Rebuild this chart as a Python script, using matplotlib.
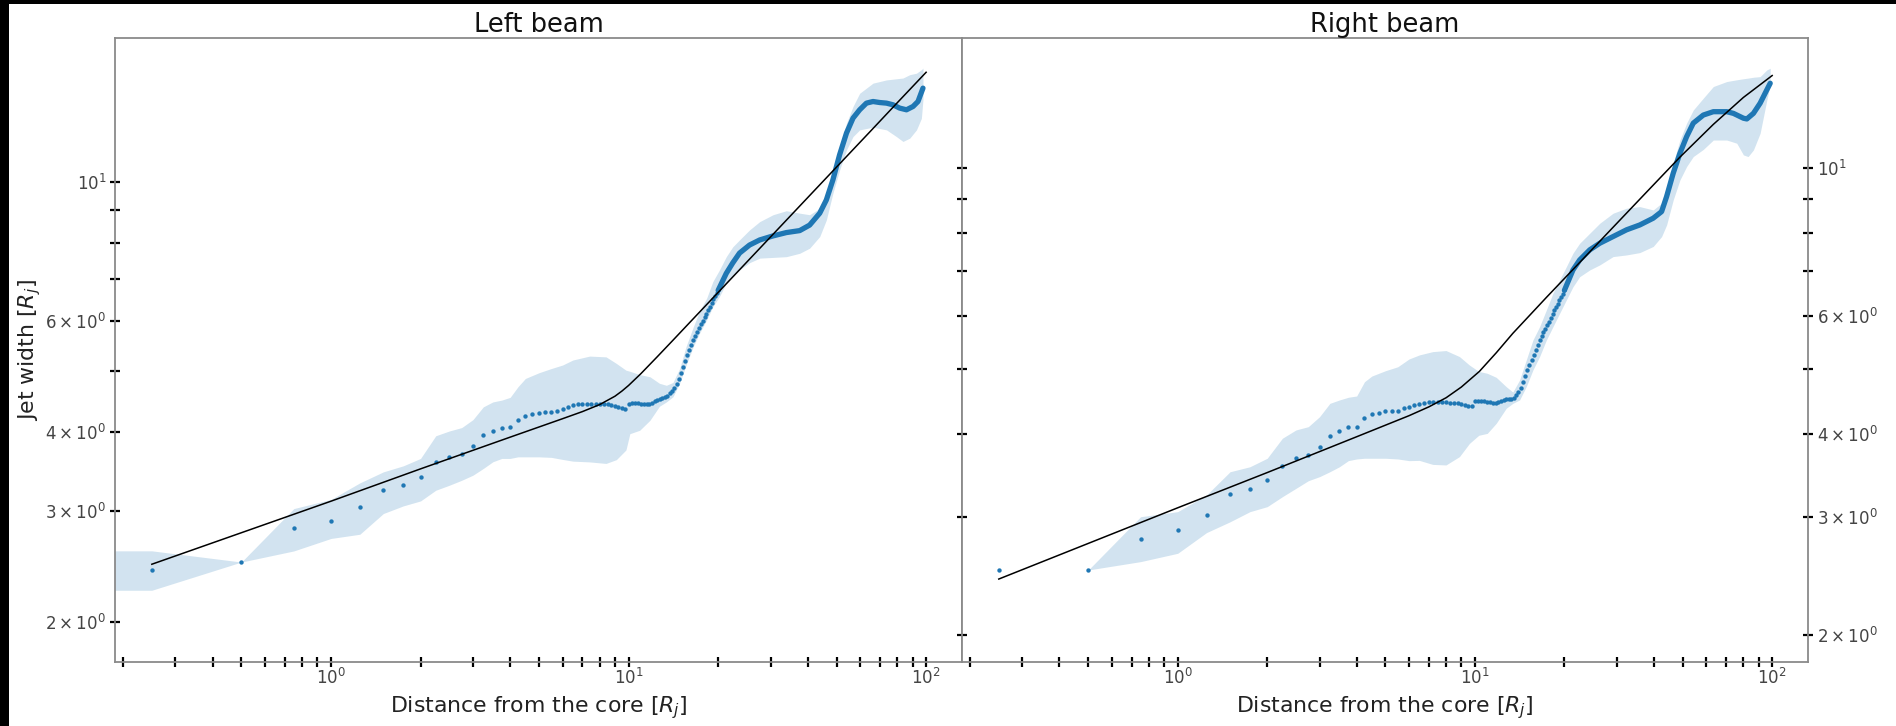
import matplotlib
matplotlib.use("Agg")
import matplotlib.pyplot as plt
from matplotlib.patches import Rectangle

# ---------------- data ----------------
# sample positions of the individually visible points (R_j)
dist_sparse = [0.25, 0.5, 0.75, 1.0, 1.25, 1.5, 1.75, 2.0, 2.25, 2.5, 2.75, 3.0,
               3.25, 3.5, 3.75, 4.0, 4.25, 4.5, 4.75, 5.0, 5.25, 5.5, 5.75, 6.0,
               6.25, 6.5, 6.75, 7.0, 7.25, 7.5, 7.75, 8.0, 8.25, 8.5, 8.75, 9.0,
               9.25, 9.5, 9.75, 10.0, 10.25, 10.5, 10.75, 11.0, 11.25, 11.5, 11.75, 12.0,
               12.25, 12.5, 12.75, 13.0, 13.25, 13.5, 13.75, 14.0, 14.25, 14.5, 14.75, 15.0,
               15.25, 15.5, 15.75, 16.0, 16.25, 16.5, 16.75, 17.0, 17.25, 17.5, 17.75, 18.0,
               18.25, 18.5, 18.75, 19.0, 19.25, 19.5, 19.75, 20.0]

# ---- Left beam ----
left_width_sparse = [2.42, 2.49, 2.815, 2.89, 3.04, 3.24, 3.30, 3.40, 3.59, 3.65, 3.70, 3.80,
                     3.96, 4.02, 4.06, 4.08, 4.19, 4.25, 4.28, 4.30, 4.31, 4.31, 4.33, 4.36,
                     4.39, 4.42, 4.43, 4.43, 4.44, 4.44, 4.44, 4.43, 4.43, 4.43, 4.42, 4.41,
                     4.39, 4.37, 4.35, 4.43, 4.45, 4.45, 4.45, 4.44, 4.44, 4.43, 4.43, 4.45,
                     4.48, 4.50, 4.51, 4.53, 4.55, 4.57, 4.61, 4.65, 4.70, 4.78, 4.86, 4.96,
                     5.07, 5.19, 5.30, 5.40, 5.50, 5.60, 5.69, 5.78, 5.86, 5.94, 6.01, 6.09,
                     6.16, 6.25, 6.33, 6.42, 6.50, 6.58, 6.65, 6.72]
left_dist_dense = [20.0, 21.3, 22.4, 23.6, 25.5, 27.6, 30.6, 33.9, 37.6, 40.6, 43.9, 46.2,
                   48.6, 51.2, 54.0, 56.8, 59.8, 63.0, 66.3, 69.8, 73.6, 77.4, 81.5, 85.9,
                   90.4, 93.9, 97.6]
left_width_dense = [6.72, 7.15, 7.43, 7.70, 7.93, 8.08, 8.20, 8.30, 8.36, 8.53, 8.91, 9.35,
                    10.06, 11.03, 11.94, 12.61, 13.00, 13.32, 13.40, 13.35, 13.32, 13.24, 13.08, 13.00,
                    13.16, 13.40, 14.07]
left_band_dist = [0.15, 0.25, 0.5, 0.75, 1.0, 1.25, 1.5, 1.75, 2.0, 2.25, 2.5, 2.75, 3.0,
                  3.25, 3.5, 3.75, 4.0, 4.25, 4.5, 5.0, 5.5, 6.0, 6.5, 7.4, 8.4, 9.1, 9.8,
                  10.1, 10.9, 11.8, 12.7, 13.4, 14.1, 14.85, 15.6, 16.5, 17.3, 18.3, 19.2,
                  20.2, 21.3, 22.4, 23.6, 25.5, 27.6, 30.6, 33.9, 37.6, 40.6, 43.9, 46.2,
                  48.6, 51.2, 54.0, 56.8, 59.8, 66.3, 73.6, 79.4, 83.6, 88.1, 92.8, 96.4, 97.6]
left_band_low = [2.246, 2.246, 2.49, 2.593, 2.714, 2.756, 2.973, 3.057, 3.113, 3.237, 3.297, 3.357, 3.42,
                 3.505, 3.592, 3.636, 3.636, 3.657, 3.657, 3.657, 3.65, 3.623, 3.60, 3.59, 3.57, 3.62, 3.75,
                 3.98, 4.03, 4.18, 4.40, 4.47, 4.556, 4.785, 5.11, 5.47, 5.74, 6.03, 6.33,
                 6.57, 6.90, 7.07, 7.24, 7.435, 7.56, 7.58, 7.60, 7.695, 7.84, 8.18, 8.69,
                 9.58, 10.43, 11.23, 11.79, 12.08, 12.20, 12.08, 11.79, 11.58, 11.72, 12.08, 12.60, 13.50]
left_band_high = [2.594, 2.594, 2.49, 3.027, 3.13, 3.325, 3.462, 3.539, 3.636, 3.95, 4.02, 4.07, 4.19,
                  4.39, 4.47, 4.50, 4.545, 4.725, 4.87, 4.973, 5.05, 5.115, 5.21, 5.285, 5.27, 5.145, 5.02,
                  5.00, 4.94, 4.90, 4.785, 4.75, 4.80, 5.05, 5.47, 5.88, 6.22, 6.53, 6.94,
                  7.24, 7.60, 7.88, 8.08, 8.38, 8.64, 8.86, 8.99, 8.91, 8.86, 9.07, 9.47,
                  10.31, 11.36, 12.38, 13.16, 13.81, 14.33, 14.50, 14.56, 14.60, 14.78, 14.86, 15.05, 15.14]
left_fit_dist = [0.25, 1, 2, 4, 6, 7, 8, 9, 9.5, 10, 11, 12.5, 14.1, 17, 20, 25, 30, 40, 50, 65, 80, 100]
left_fit_width = [2.47, 3.11, 3.50, 3.93, 4.204, 4.315, 4.427, 4.564, 4.651, 4.747, 4.956, 5.275, 5.60,
                  6.149, 6.669, 7.457, 8.168, 9.432, 10.545, 12.02, 13.34, 14.91]

# ---- Right beam ----
right_width_sparse = [2.50, 2.50, 2.78, 2.87, 3.02, 3.25, 3.31, 3.415, 3.585, 3.68, 3.72, 3.82,
                      3.97, 4.045, 4.09, 4.10, 4.22, 4.28, 4.30, 4.32, 4.32, 4.33, 4.37, 4.39,
                      4.42, 4.44, 4.45, 4.46, 4.47, 4.465, 4.46, 4.46, 4.455, 4.45, 4.445, 4.435,
                      4.42, 4.405, 4.40, 4.48, 4.48, 4.48, 4.475, 4.47, 4.46, 4.45, 4.445, 4.46,
                      4.48, 4.495, 4.505, 4.51, 4.515, 4.53, 4.57, 4.62, 4.69, 4.78, 4.88, 4.98,
                      5.07, 5.16, 5.25, 5.34, 5.43, 5.53, 5.60, 5.675, 5.75, 5.82, 5.89, 5.97,
                      6.045, 6.12, 6.19, 6.265, 6.34, 6.41, 6.485, 6.56]
right_dist_dense = [20.0, 21.37, 22.51, 24.33, 26.3, 29.15, 32.36, 35.87, 39.79, 42.46, 44.14, 46.46,
                    48.94, 51.55, 54.27, 58.66, 63.39, 70.36, 74.06, 80.04, 82.18, 86.48, 91.1, 95.96, 98.5]
right_width_dense = [6.56, 7.036, 7.283, 7.54, 7.715, 7.894, 8.08, 8.217, 8.41, 8.603, 9.06, 9.82,
                     10.52, 11.14, 11.67, 12.0, 12.14, 12.14, 12.07, 11.87, 11.84, 12.07, 12.50, 13.09, 13.39]
right_band_dist = [0.5, 0.75, 1.0, 1.25, 1.5, 1.75, 2.0, 2.25, 2.5, 2.75, 3.0, 3.25, 3.5, 3.75,
                   4.0, 4.25, 4.5, 5.0, 5.5, 6.0, 6.5, 7.21, 7.99, 8.87, 9.58, 10.3, 11.0, 11.79,
                   12.74, 13.41, 14.13, 14.88, 15.67, 16.5, 17.39, 18.3, 19.27, 20.3, 21.37, 22.51,
                   24.33, 26.3, 29.15, 32.36, 35.87, 39.79, 42.46, 44.14, 46.46, 48.94, 51.55, 54.27,
                   58.66, 63.39, 70.36, 76.0, 80.04, 83.0, 86.48, 91.1, 95.96, 98.5]
right_band_low = [2.502, 2.575, 2.65, 2.846, 2.954, 3.059, 3.112, 3.221, 3.315, 3.403, 3.451, 3.51, 3.571, 3.647,
                  3.668, 3.677, 3.677, 3.677, 3.668, 3.647, 3.65, 3.60, 3.593, 3.698, 3.87, 3.98, 4.006, 4.147,
                  4.368, 4.443, 4.495, 4.706, 4.985, 5.22, 5.527, 5.787, 6.059, 6.345, 6.64, 6.875,
                  7.036, 7.16, 7.368, 7.41, 7.47, 7.63, 7.894, 8.217, 8.957, 9.595, 10.05, 10.40,
                  10.66, 11.01, 11.01, 10.89, 10.46, 10.40, 10.64, 11.27, 12.64, 13.30]
right_band_high = [2.502, 3.006, 3.059, 3.24, 3.51, 3.571, 3.677, 3.94, 4.054, 4.10, 4.243, 4.443, 4.495, 4.537,
                   4.557, 4.787, 4.882, 4.972, 5.04, 5.177, 5.25, 5.31, 5.33, 5.22, 5.07, 4.96, 4.928, 4.86,
                   4.706, 4.62, 4.815, 5.159, 5.527, 5.787, 6.13, 6.493, 6.797, 7.116, 7.455, 7.715,
                   7.985, 8.265, 8.555, 8.705, 8.753, 8.653, 8.856, 9.376, 10.16, 11.01, 11.67, 12.21,
                   12.72, 13.24, 13.47, 13.55, 13.60, 13.63, 13.67, 13.70, 14.02, 14.10]
right_fit_dist = [0.25, 1, 2, 4, 6, 7, 8, 9, 10.35, 11.8, 13.41, 17.39, 22.51, 29.15, 37.78, 48.94, 63.39, 80, 100]
right_fit_width = [2.425, 3.10, 3.50, 3.96, 4.258, 4.39, 4.53, 4.70, 4.96, 5.29, 5.655, 6.40, 7.22,
                   8.15, 9.20, 10.38, 11.62, 12.75, 13.75]

titles = ["Left beam", "Right beam"]
xlabel = "Distance from the core [$R_j$]"
ylabel = "Jet width [$R_j$]"

# ---------------- figure ----------------
W, H = 1896, 726
fig = plt.figure(figsize=(W / 100, H / 100), dpi=100)
fig.patch.set_facecolor("white")

ax_top, ax_bot = 38, 662
axL = fig.add_axes([115 / W, 1 - ax_bot / H, (962 - 115) / W, (ax_bot - ax_top) / H])
axR = fig.add_axes([962 / W, 1 - ax_bot / H, (1808 - 962) / W, (ax_bot - ax_top) / H])

blue = "#1f77b4"
panels = [
    (axL, left_width_sparse, left_dist_dense, left_width_dense, left_band_dist, left_band_low,
     left_band_high, left_fit_dist, left_fit_width, (1.728, 16.9)),
    (axR, right_width_sparse, right_dist_dense, right_width_dense, right_band_dist, right_band_low,
     right_band_high, right_fit_dist, right_fit_width, (1.822, 15.65)),
]

for i, (ax, ys, xd, yd, bx, blo, bhi, fx, fy, ylim) in enumerate(panels):
    ax.set_xscale("log")
    ax.set_yscale("log")
    ax.fill_between(bx, blo, bhi, color=blue, alpha=0.2, linewidth=0, zorder=1)
    ax.scatter(dist_sparse, ys, s=10, color=blue, linewidths=0, zorder=2)
    ax.plot(xd, yd, color=blue, lw=3.8, solid_capstyle="round", solid_joinstyle="round", zorder=2)
    ax.plot(fx, fy, color="black", lw=1.1, zorder=3)
    ax.set_xlim(0.188, 132)
    ax.set_ylim(*ylim)
    ax.set_title(titles[i], fontsize=18.5, pad=3.5, color="#111111")
    ax.set_xlabel(xlabel, fontsize=15.8, color="#222222", labelpad=4)
    for sp in ax.spines.values():
        sp.set_color("#8a8a8a")
        sp.set_linewidth(1.3)
    ax.tick_params(which="both", direction="inout", length=7.5, width=1.6, color="black",
                   labelsize=12, labelcolor="#444444")
    ax.tick_params(axis="x", which="both", pad=0.8, top=False, bottom=True)

axL.tick_params(axis="y", which="both", left=True, right=False, labelleft=True, labelright=False, pad=2.5)
axL.set_ylabel(ylabel, fontsize=15.8, color="#222222", labelpad=1.5)
axR.tick_params(axis="y", which="both", left=True, right=True, labelleft=False, labelright=True, pad=3)

# black border of the source image (top and left edges)
fig.add_artist(Rectangle((0, 1 - 4 / H), 1, 4 / H, transform=fig.transFigure,
                         facecolor="black", edgecolor="none", zorder=10))
fig.add_artist(Rectangle((0, 0), 9 / W, 1, transform=fig.transFigure,
                         facecolor="black", edgecolor="none", zorder=10))

fig.savefig("out.png", dpi=100, facecolor="white")
